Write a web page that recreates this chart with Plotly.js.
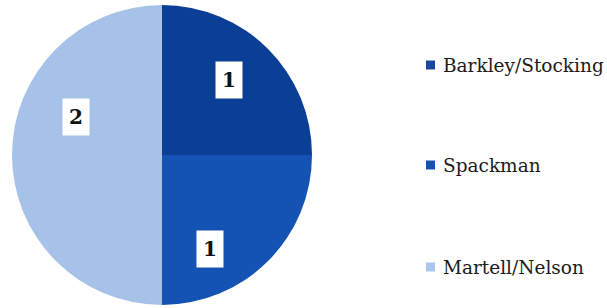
<!DOCTYPE html>
<html>
<head>
<meta charset="utf-8">
<script src="https://cdn.plot.ly/plotly-3.0.1.min.js"></script>
<style>html,body{margin:0;padding:0;background:#fff;}#chart{width:607px;height:308px;}</style>
</head>
<body>
<div id="chart"></div>
<script>
// Data
var categories = ["Barkley/Stocking", "Spackman", "Martell/Nelson"];
var values = [1, 1, 2];

// Style
var colors = ["#0b3e95", "#1452b3", "#a6c2e8"];
var legendMarkerColors = ["#1a47a0", "#1452b5", "#a9c6ee"];
var W = 607, H = 308;
var cxPx = 162, cyPx = 155, R = 150;
var labelAngleShift = [-3, 18, 24];   // degrees, visual tweak
var labelRadiusFrac = [0.67, 0.70, 0.63];
var font = "DejaVu Serif, Georgia, serif";

var total = values.reduce(function(a, b){ return a + b; }, 0);
var annotations = [];
var shapes = [];
var cum = 0;
values.forEach(function(v, i){
  var mid = (cum + v / 2) / total * 360 + labelAngleShift[i];
  cum += v;
  var rad = mid * Math.PI / 180;
  var px = cxPx + R * labelRadiusFrac[i] * Math.sin(rad);
  var py = cyPx - R * labelRadiusFrac[i] * Math.cos(rad);
  annotations.push({
    x: px / W, y: 1 - py / H, xref: "paper", yref: "paper",
    xanchor: "center", yanchor: "middle",
    text: "<b>" + v + "</b>", showarrow: false,
    width: 22, height: 32, align: "center", valign: "middle",
    bgcolor: "#ffffff", borderpad: 2,
    font: {family: font, size: 20, color: "#111"}
  });
});

// Legend (manual, to match wide spacing)
var legendY = [65, 165, 267];
categories.forEach(function(c, i){
  shapes.push({
    type: "rect", xref: "paper", yref: "paper",
    x0: 426 / W, x1: 435 / W,
    y0: 1 - (legendY[i] + 4.5) / H, y1: 1 - (legendY[i] - 4.5) / H,
    fillcolor: legendMarkerColors[i], line: {width: 0}
  });
  annotations.push({
    x: 441 / W, y: 1 - legendY[i] / H, xref: "paper", yref: "paper",
    xanchor: "left", yanchor: "middle",
    text: c,
    showarrow: false,
    font: {family: font, size: 18.5, color: "#1a1a1a"}
  });
});

var trace = {
  type: "pie",
  labels: categories,
  values: values,
  sort: false,
  direction: "clockwise",
  rotation: 0,
  textinfo: "none",
  hoverinfo: "label+value",
  marker: {colors: colors, line: {color: "#ffffff", width: 0}},
  domain: {x: [(cxPx - R) / W, (cxPx + R) / W], y: [1 - (cyPx + R) / H, 1 - (cyPx - R) / H]},
  showlegend: false
};

var layout = {
  width: W, height: H,
  margin: {l: 0, r: 0, t: 0, b: 0},
  paper_bgcolor: "#ffffff",
  showlegend: false,
  annotations: annotations,
  shapes: shapes
};

Plotly.newPlot("chart", [trace], layout, {displayModeBar: false, staticPlot: true});
</script>
</body>
</html>
